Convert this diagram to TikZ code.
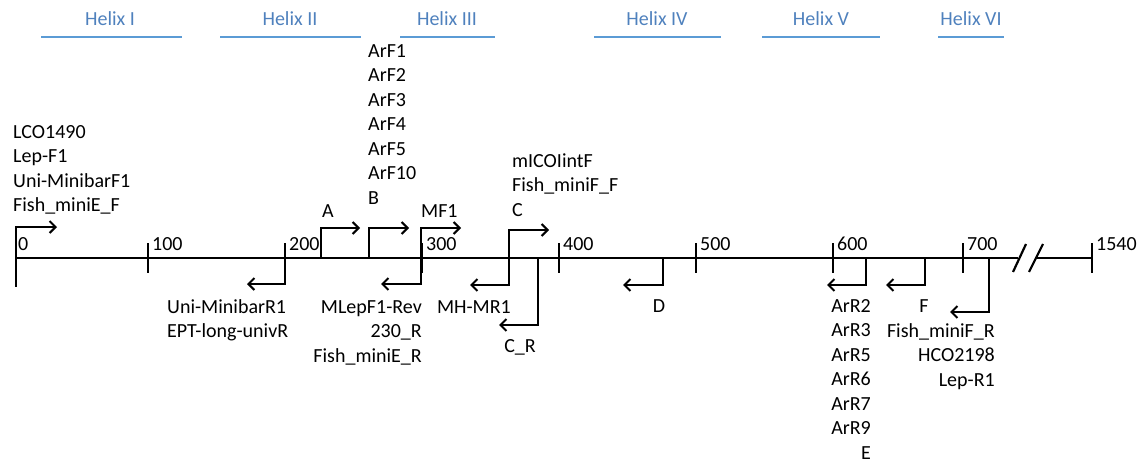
\documentclass[tikz,border=0pt]{standalone}
\usepackage{fontspec}
\setmainfont{Carlito}
\usetikzlibrary{arrows.meta}
\definecolor{hxtext}{RGB}{79,129,189}
\definecolor{hxline}{RGB}{91,155,213}
\begin{document}
\begin{tikzpicture}[x=1pt,y=-1pt,
  lbl/.style={inner sep=0pt, font=\fontsize{20}{24}\selectfont},
  hx/.style={lbl, text=hxtext, anchor=base},
  hxbar/.style={draw=hxline, line width=2.6pt},
  axisline/.style={line width=2.2pt},
  primer/.style={line width=2.2pt, line join=miter, -{Straight Barb[length=6pt,width=12pt,line width=2pt]}}]
\useasboundingbox (0,0) rectangle (1143,466);

% helices
\foreach \a/\b/\c/\t [count=\i] in {41/182/110/Helix I, 220/361/290/Helix II, 400/495/447/Helix III, 594/721/657/Helix IV, 762/880/821/Helix V, 938/1004/971/Helix VI}{
  \node[hx] (hx\i) at (\c,25) {\t};
  \draw[hxbar] (\a,37) -- (\b,37);
}

% axis
\coordinate (ax0) at (16,258);
\coordinate (axbreakL) at (1018,258);
\coordinate (axbreakR) at (1037,258);
\coordinate (ax1540) at (1092,258);
\draw[axisline] (ax0) -- (axbreakL);
\draw[axisline] (axbreakR) -- (ax1540);
\draw[axisline] (1013,272) -- (1026,244);
\draw[axisline] (1029,272) -- (1043,244);

% ticks
\draw[axisline] (16,258) -- (16,287);
\node[lbl, anchor=base west] (t0) at (18,250) {0};
\foreach \x/\t in {148/100, 285/200, 422/300, 559/400, 696/500, 833/600, 963/700, 1092/1540}{
  \draw[axisline] (\x,243) -- (\x,273);
  \node[lbl, anchor=base west] (t\t) at (\x+4,250) {\t};
}

% forward primers
\draw[primer] (16,258) |- (57,227);
\draw[primer] (321,258) |- (360,228);
\draw[primer] (369,258) |- (409,228);
\draw[primer] (421,258) |- (461,228);
\draw[primer] (509,258) |- (549,230);

% reverse primers
\draw[primer] (285,258) |- (247,284);
\draw[primer] (421,258) |- (381,284);
\draw[primer] (509,258) |- (470,285);
\draw[primer] (538,258) |- (499,325);
\draw[primer] (663,258) |- (623,285);
\draw[primer] (866,258) |- (827,285);
\draw[primer] (925,258) |- (886,285);
\draw[primer] (989,258) |- (950,312);

% upper labels
\foreach \t [count=\i] in {LCO1490, Lep-F1, Uni-MinibarF1, Fish\_miniE\_F}
  \node[lbl, anchor=base west] (p0\i) at (13,138+24.5*\i-24.5) {\t};
\foreach \t [count=\i] in {ArF1, ArF2, ArF3, ArF4, ArF5, ArF10, B}
  \node[lbl, anchor=base west] (pB\i) at (368,57+24.5*\i-24.5) {\t};
\node[lbl, anchor=base west] (pA) at (322,217) {A};
\node[lbl, anchor=base west] (pMF) at (421,217) {MF1};
\foreach \t [count=\i] in {mICOIintF, Fish\_miniF\_F, C}
  \node[lbl, anchor=base west] (pC\i) at (512,167+24.5*\i-24.5) {\t};

% lower labels
\foreach \t [count=\i] in {Uni-MinibarR1, EPT-long-univR}
  \node[lbl, anchor=base west] (r1\i) at (167,313+24.5*\i-24.5) {\t};
\foreach \t [count=\i] in {MLepF1-Rev, 230\_R, Fish\_miniE\_R}
  \node[lbl, anchor=base east] (r2\i) at (422,313+24.5*\i-24.5) {\t};
\node[lbl, anchor=base east] (rMH) at (511,313) {MH-MR1};
\node[lbl, anchor=base] (rCR) at (520,352) {C\_R};
\node[lbl, anchor=base] (rD) at (659,312) {D};
\foreach \t [count=\i] in {ArR2, ArR3, ArR5, ArR6, ArR7, ArR9, E}
  \node[lbl, anchor=base east] (rE\i) at (871,312+24.5*\i-24.5) {\t};
\node[lbl, anchor=base] (rF) at (924,312) {F};
\foreach \t [count=\i] in {Fish\_miniF\_R, HCO2198, Lep-R1}
  \node[lbl, anchor=base east] (rL\i) at (995,337+24.5*\i-24.5) {\t};
\end{tikzpicture}
\end{document}
